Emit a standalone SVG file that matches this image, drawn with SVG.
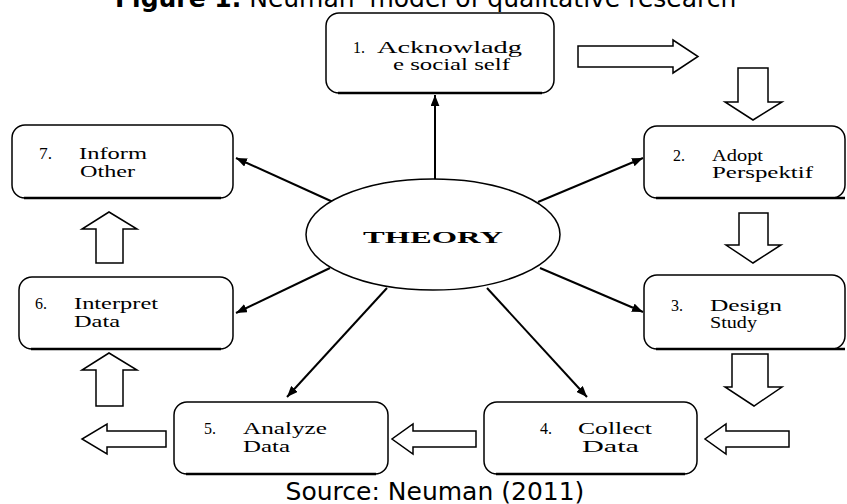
<svg xmlns="http://www.w3.org/2000/svg" width="847" height="504" viewBox="0 0 847 504">
<defs>
<style>
.box{fill:#fff;stroke:#000;stroke-width:1.5}
.btm{stroke:#000;stroke-width:2.5;fill:none}
.blk{fill:#fff;stroke:#000;stroke-width:1.5;stroke-linejoin:miter}
.t{font-family:"Liberation Serif","Times New Roman",serif;font-size:16px;fill:#000}
.con{stroke:#000;stroke-width:2;fill:none}
.cap{font-family:"DejaVu Sans",Verdana,sans-serif;font-size:25px;fill:#000}
</style>
<marker id="ah" viewBox="0 0 10 8" refX="10" refY="4" markerWidth="11" markerHeight="9" markerUnits="userSpaceOnUse" orient="auto">
<path d="M0,0 L10,4 L0,8 Z" fill="#000"/>
</marker>
</defs>
<rect width="847" height="504" fill="#fff"/>
<text class="cap" x="115" y="7"><tspan font-weight="bold">Figure 1.</tspan> Neuman' model of qualitative research</text>
<text class="cap" x="435" y="499.5" text-anchor="middle" font-size="26">Source: Neuman (2011)</text>

<g id="connectors">
<line class="con" x1="435" y1="179" x2="435" y2="95" stroke-width="3" marker-end="url(#ah)"/>
<line class="con" x1="333" y1="202" x2="236" y2="158" marker-end="url(#ah)"/>
<line class="con" x1="538" y1="202" x2="643" y2="158" marker-end="url(#ah)"/>
<line class="con" x1="540" y1="268" x2="643" y2="312" marker-end="url(#ah)"/>
<line class="con" x1="330" y1="268" x2="236" y2="313" marker-end="url(#ah)"/>
<line class="con" x1="387" y1="288" x2="287" y2="397" marker-end="url(#ah)"/>
<line class="con" x1="487" y1="288" x2="587" y2="397" marker-end="url(#ah)"/>
</g>

<g id="block-arrows">
<path class="blk" d="M578,46 H673 V40 L698,56.5 L673,73 V67 H578 Z"/>
<path class="blk" d="M738,68 H768 V102 H782 L753,120 L725,102 H738 Z"/>
<path class="blk" d="M739,213 H768 V245 H781 L753,263 L726,245 H739 Z"/>
<path class="blk" d="M732,354 H768 V387 H782 L754,406 L725,387 H732 Z"/>
<path class="blk" d="M789,431 V447 H726 V454 L705,439 L726,424 V431 Z"/>
<path class="blk" d="M476,431 V447 H413 V454 L392,439 L413,424 V431 Z"/>
<path class="blk" d="M166,431 V447 H107 V454 L82,439 L107,424 V431 Z"/>
<path class="blk" d="M96,406 H123 V370 H137 L109,353 L82,370 H96 Z"/>
<path class="blk" d="M96,263 H123 V229 H137 L109,212 L82,229 H96 Z"/>
</g>

<g id="theory">
<ellipse class="box" cx="433" cy="234.5" rx="127" ry="55.5"/>
<text class="t" x="363" y="243" font-size="22" font-weight="bold" textLength="140" lengthAdjust="spacingAndGlyphs">THEORY</text>
</g>

<g id="n1">
<rect class="box" x="326" y="13" width="228" height="80" rx="13"/>
<line class="btm" x1="338" y1="93" x2="542" y2="93" stroke-width="3.5"/>
<text class="t" x="353" y="53" font-size="17" textLength="12" lengthAdjust="spacingAndGlyphs">1.</text>
<text class="t" x="377" y="53" font-size="17" textLength="145" lengthAdjust="spacingAndGlyphs">Acknowladg</text>
<text class="t" x="393" y="70" font-size="17" textLength="117" lengthAdjust="spacingAndGlyphs">e social self</text>
</g>

<g id="n2">
<rect class="box" x="644" y="126" width="201" height="72" rx="13"/>
<line class="btm" x1="656" y1="198" x2="845" y2="198"/>
<text class="t" x="673" y="160.5" textLength="12" lengthAdjust="spacingAndGlyphs">2.</text>
<text class="t" x="712" y="160.5" textLength="51" lengthAdjust="spacingAndGlyphs">Adopt</text>
<text class="t" x="712" y="177.5" textLength="101" lengthAdjust="spacingAndGlyphs">Perspektif</text>
</g>

<g id="n3">
<rect class="box" x="644" y="275" width="201" height="74" rx="13"/>
<line class="btm" x1="656" y1="349" x2="845" y2="349"/>
<text class="t" x="671" y="311" textLength="12" lengthAdjust="spacingAndGlyphs">3.</text>
<text class="t" x="710" y="311" textLength="72" lengthAdjust="spacingAndGlyphs">Design</text>
<text class="t" x="710" y="328" textLength="47" lengthAdjust="spacingAndGlyphs">Study</text>
</g>

<g id="n4">
<rect class="box" x="484" y="402" width="213" height="72" rx="13"/>
<line class="btm" x1="496" y1="474" x2="685" y2="474"/>
<text class="t" x="540" y="434" textLength="12" lengthAdjust="spacingAndGlyphs">4.</text>
<text class="t" x="578" y="434" textLength="74" lengthAdjust="spacingAndGlyphs">Collect</text>
<text class="t" x="582" y="452" textLength="57" lengthAdjust="spacingAndGlyphs">Data</text>
</g>

<g id="n5">
<rect class="box" x="174" y="402" width="214" height="72" rx="13"/>
<line class="btm" x1="186" y1="474" x2="376" y2="474"/>
<text class="t" x="204" y="434" textLength="12" lengthAdjust="spacingAndGlyphs">5.</text>
<text class="t" x="243" y="434" textLength="84" lengthAdjust="spacingAndGlyphs">Analyze</text>
<text class="t" x="243" y="452" textLength="47" lengthAdjust="spacingAndGlyphs">Data</text>
</g>

<g id="n6">
<rect class="box" x="19" y="277" width="214" height="72" rx="13"/>
<line class="btm" x1="31" y1="349" x2="221" y2="349"/>
<text class="t" x="35" y="309" textLength="12" lengthAdjust="spacingAndGlyphs">6.</text>
<text class="t" x="74" y="309" textLength="84" lengthAdjust="spacingAndGlyphs">Interpret</text>
<text class="t" x="74" y="327" textLength="46" lengthAdjust="spacingAndGlyphs">Data</text>
</g>

<g id="n7">
<rect class="box" x="12" y="125" width="221" height="73" rx="13"/>
<line class="btm" x1="24" y1="198" x2="221" y2="198"/>
<text class="t" x="39" y="159" textLength="13" lengthAdjust="spacingAndGlyphs">7.</text>
<text class="t" x="79" y="159" textLength="68" lengthAdjust="spacingAndGlyphs">Inform</text>
<text class="t" x="80" y="177" textLength="55" lengthAdjust="spacingAndGlyphs">Other</text>
</g>
</svg>
